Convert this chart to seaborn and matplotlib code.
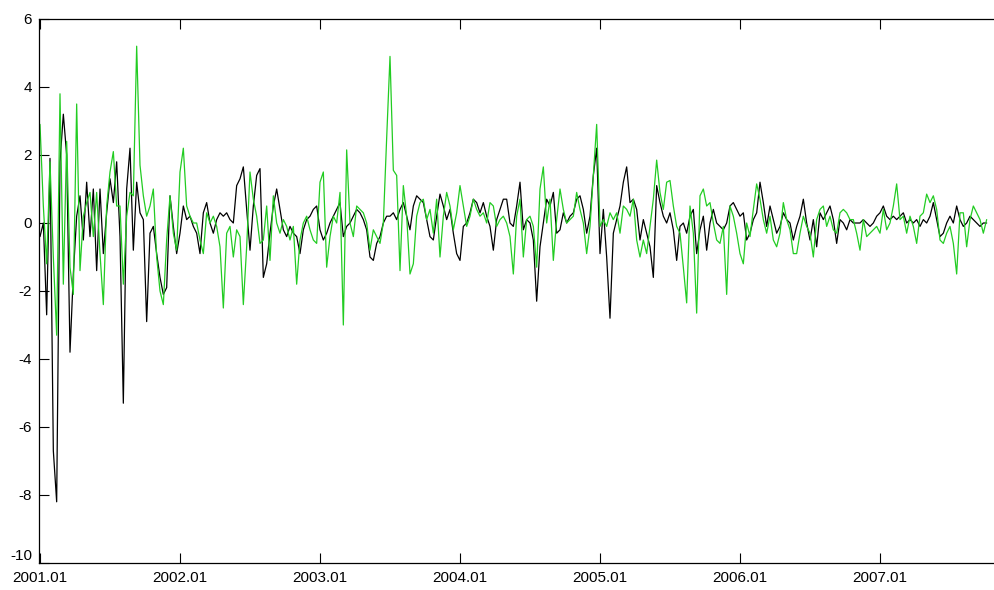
import numpy as np
import pandas as pd
import matplotlib
matplotlib.use("Agg")
import matplotlib.pyplot as plt
import seaborn as sns

# ---- data (~weekly samples, 42 per year from 2001.01) ----
black_values = [
    -0.4, 0.0, -2.7, 1.9, -6.7, -8.2, 1.8, 3.2, 2.0, -3.8,      # 0-9
    -1.5, 0.2, 0.8, -0.5, 1.2, -0.4, 1.0, -1.4, 1.0, -0.9,      # 10-19
    0.3, 1.3, 0.6, 1.8, -0.4, -5.3, 1.0, 2.2, -0.8, 1.2,        # 20-29
    0.3, 0.1, -2.9, -0.3, -0.1, -0.9, -1.6, -2.1, -1.9, 0.8,    # 30-39
    -0.1, -0.9, -0.3, 0.5, 0.1, 0.2, -0.1, -0.3, -0.9, 0.3,     # 40-49
    0.6, 0.0, -0.3, 0.1, 0.3, 0.2, 0.3, 0.1, 0.0, 1.1,          # 50-59
    1.3, 1.65, 0.4, -0.8, 0.5, 1.4, 1.6, -1.6, -1.2, -0.3,      # 60-69
    0.5, 1.0, 0.4, -0.2, -0.4, -0.1, -0.3, -0.4, -0.9, -0.2,    # 70-79
    0.1, 0.2, 0.4, 0.5, -0.2, -0.5, -0.3, 0.0, 0.2, 0.4,        # 80-89
    0.6, -0.4, -0.1, 0.0, 0.2, 0.4, 0.3, 0.1, -0.2, -1.0,       # 90-99
    -1.1, -0.6, -0.4, 0.0, 0.2, 0.2, 0.3, 0.1, 0.4, 0.6,        # 100-109
    0.2, -0.2, 0.5, 0.8, 0.7, 0.6, 0.1, -0.4, -0.5, 0.2,        # 110-119
    0.85, 0.5, 0.1, 0.4, -0.3, -0.9, -1.1, -0.1, 0.0, 0.3,      # 120-129
    0.7, 0.6, 0.3, 0.6, 0.2, -0.1, -0.8, 0.1, 0.4, 0.7,         # 130-139
    0.7, 0.0, -0.1, 0.5, 1.2, -0.2, 0.1, 0.0, -0.5, -2.3,       # 140-149
    -0.7, 0.0, 0.7, 0.5, 0.9, -0.3, -0.2, 0.3, 0.0, 0.2,        # 150-159
    0.3, 0.7, 0.8, 0.4, -0.3, 0.2, 1.4, 2.2, -0.9, 0.4,         # 160-169
    -1.0, -2.8, -0.3, 0.1, 0.5, 1.2, 1.65, 0.6, 0.7, 0.4,       # 170-179
    -0.5, 0.1, -0.3, -0.7, -1.6, 1.1, 0.6, 0.2, 0.0, 0.3,       # 180-189
    -0.2, -1.1, -0.1, 0.0, -0.3, 0.2, 0.4, -0.9, -0.2, 0.2,     # 190-199
    -0.8, 0.0, 0.4, 0.0, -0.1, -0.2, 0.0, 0.5, 0.6, 0.4,        # 200-209
    0.2, 0.3, -0.5, -0.3, 0.1, 0.3, 1.2, 0.6, -0.1, 0.5,        # 210-219
    0.1, -0.3, -0.1, 0.3, 0.1, 0.0, -0.5, -0.1, 0.2, 0.7,       # 220-229
    0.0, -0.5, 0.1, -0.7, 0.3, 0.1, 0.3, 0.5, 0.1, -0.6,        # 230-239
    0.1, 0.0, -0.2, 0.1, 0.0, 0.0, 0.0, 0.1, 0.0, -0.1,         # 240-249
    0.0, 0.2, 0.3, 0.5, 0.2, 0.1, 0.2, 0.1, 0.2, 0.3,           # 250-259
    0.0, 0.1, 0.0, 0.1, -0.1, 0.1, 0.0, 0.2, 0.6, 0.1,          # 260-269
    -0.4, -0.3, 0.0, 0.2, 0.0, 0.5, 0.1, -0.1, 0.0, 0.2,        # 270-279
    0.1, 0.0, -0.1, 0.0, 0.0,                                   # 280-284
]

green_values = [
    2.9, 0.5, -1.2, 1.8, -1.0, -3.3, 3.8, -1.8, 2.4, -1.3,      # 0-9
    -2.1, 3.5, -1.4, 0.2, 0.6, 0.9, -0.4, 0.9, -0.9, -2.4,      # 10-19
    0.5, 1.5, 2.1, 0.5, 0.5, -1.8, 0.2, 0.9, 0.8, 5.2,          # 20-29
    1.7, 0.8, 0.2, 0.5, 1.0, -1.0, -2.0, -2.4, -0.5, 0.8,       # 30-39
    -0.3, -0.8, 1.5, 2.2, 0.5, 0.2, 0.0, 0.0, -0.5, -0.9,       # 40-49
    0.3, 0.0, 0.2, -0.1, -0.7, -2.5, -0.3, -0.1, -1.0, -0.2,    # 50-59
    -0.4, -2.4, -0.7, 1.5, 0.7, 0.2, -0.6, -0.5, 0.5, -1.1,     # 60-69
    0.8, 0.0, -0.3, 0.1, -0.1, -0.5, -0.1, -1.8, -0.5, 0.0,     # 70-79
    0.2, -0.2, -0.5, -0.6, 1.2, 1.5, -1.3, -0.4, 0.2, 0.0,      # 80-89
    0.9, -3.0, 2.15, 0.0, -0.4, 0.5, 0.4, 0.3, 0.0, -0.8,       # 90-99
    -0.2, -0.4, -0.6, 0.0, 2.5, 4.9, 1.55, 1.4, -1.4, 1.1,      # 100-109
    0.2, -1.5, -1.2, 0.2, 0.6, 0.7, 0.1, 0.4, -0.3, 0.7,        # 110-119
    -1.0, 0.2, 0.9, 0.5, -0.2, 0.3, 1.1, 0.5, -0.1, 0.2,        # 120-129
    0.7, 0.4, 0.2, 0.3, 0.0, 0.6, 0.5, -0.1, 0.1, 0.2,          # 130-139
    0.0, -0.4, -1.5, 0.2, 0.7, -1.0, 0.1, 0.2, -0.1, -1.3,      # 140-149
    1.0, 1.65, 0.0, 0.7, -1.1, 0.1, 1.0, 0.4, 0.0, 0.1,         # 150-159
    0.2, 0.9, 0.4, 0.0, -0.9, -0.1, 1.4, 2.9, -0.1, 0.1,        # 160-169
    -0.1, 0.3, 0.1, 0.3, -0.3, 0.5, 0.4, 0.2, 0.7, -0.5,        # 170-179
    -1.0, -0.5, -0.9, -0.1, 0.7, 1.85, 0.9, 0.4, 1.2, 1.25,     # 180-189
    0.5, -0.1, -0.3, -1.3, -2.35, 0.5, -0.3, -2.65, 0.8, 1.0,   # 190-199
    0.5, 0.6, 0.0, -0.5, -0.6, -0.1, -2.1, 0.5, 0.2, -0.3,      # 200-209
    -0.9, -1.2, 0.0, -0.4, 0.4, 1.15, 0.7, 0.1, -0.3, 0.2,      # 210-219
    -0.5, -0.7, -0.3, 0.6, 0.1, -0.2, -0.9, -0.9, -0.3, 0.2,    # 220-229
    -0.1, -0.3, -1.0, 0.1, 0.4, 0.5, -0.1, 0.2, -0.2, -0.3,     # 230-239
    0.3, 0.4, 0.3, 0.1, 0.1, -0.3, -0.8, 0.1, -0.4, -0.3,       # 240-249
    -0.2, -0.1, -0.3, 0.4, -0.2, 0.0, 0.5, 1.15, 0.1, 0.2,      # 250-259
    -0.3, 0.2, -0.1, -0.6, 0.2, 0.3, 0.85, 0.6, 0.8, 0.4,       # 260-269
    -0.5, -0.6, -0.3, -0.1, -0.6, -1.5, 0.3, 0.3, -0.7, 0.1,    # 270-279
    0.5, 0.3, 0.1, -0.3, 0.1,                                   # 280-284
]

series_names = ["black", "green"]
series_colors = {"black": "#000000", "green": "#22cc22"}
year_ticks = [2001, 2002, 2003, 2004, 2005, 2006, 2007]
year_tick_labels = ["2001.01", "2002.01", "2003.01", "2004.01", "2005.01", "2006.01", "2007.01"]
y_ticks = [-10, -8, -6, -4, -2, 0, 2, 4, 6]
samples_per_year = 42

# ---- build long-form table ----
n = len(black_values)
t = 2001 + np.arange(n) / samples_per_year
df = pd.concat([
    pd.DataFrame({"t": t, "value": black_values, "series": "black"}),
    pd.DataFrame({"t": t, "value": green_values, "series": "green"}),
], ignore_index=True)

sns.set_theme(style="white")
plt.rcParams["font.family"] = ["Liberation Sans", "DejaVu Sans"]

W, H = 994, 590
fig = plt.figure(figsize=(W / 100, H / 100), dpi=100)
left, right, top, bottom = 39, 994, 19, 563
ax = fig.add_axes([left / W, (H - bottom) / H, (right - left) / W, (bottom - top) / H])

sns.lineplot(data=df, x="t", y="value", hue="series", hue_order=series_names,
             palette=series_colors, estimator=None, sort=False, legend=False,
             linewidth=0.9, ax=ax)

ax.set_xlim(2001 - 1 / 140, 2001 + (right - 40) / 140)
ax.set_ylim(-10, 6)
ax.set_xticks(year_ticks)
ax.set_xticklabels(year_tick_labels)
ax.set_yticks(y_ticks)
ax.set_yticklabels([str(v) for v in y_ticks])
ax.set_xlabel("")
ax.set_ylabel("")

for side in ["left", "bottom", "top"]:
    ax.spines[side].set_visible(True)
    ax.spines[side].set_color("black")
    ax.spines[side].set_linewidth(0.9)
ax.spines["right"].set_visible(False)

ax.tick_params(axis="both", direction="in", length=7, width=0.8, colors="black",
               labelsize=11, top=True, right=False, bottom=True, left=True)
ax.tick_params(axis="x", pad=6)
ax.tick_params(axis="y", pad=5)
# lift the lowest y label slightly, as in the reference, so it clears the first date label
ax.get_yticklabels()[0].set_verticalalignment("bottom")
ax.grid(False)
ax.set_facecolor("white")
fig.patch.set_facecolor("white")

fig.savefig("out.png", dpi=100, facecolor="white")
